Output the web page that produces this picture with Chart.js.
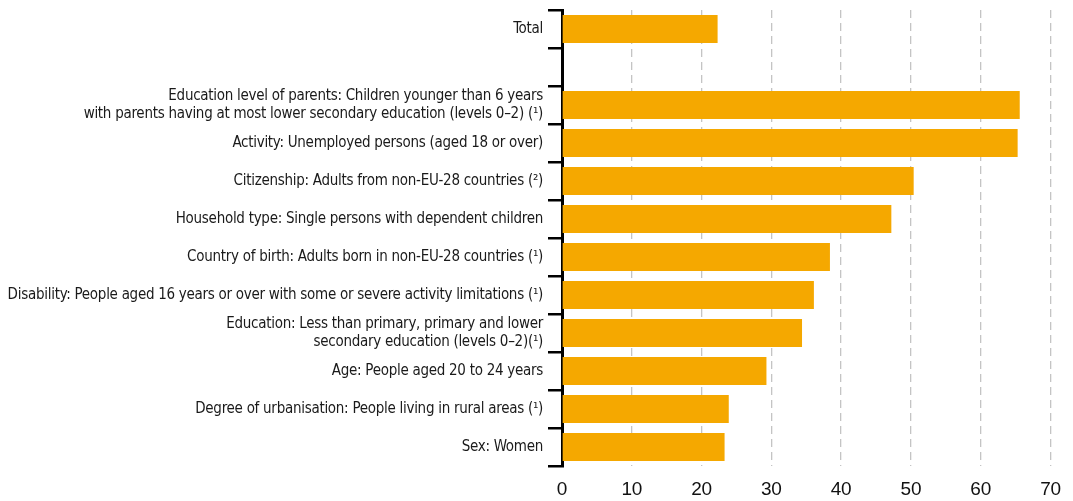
<!DOCTYPE html>
<html>
<head>
<meta charset="utf-8">
<script src="https://cdn.jsdelivr.net/npm/chart.js@4/dist/chart.umd.min.js"></script>
<style>
  html, body { margin: 0; padding: 0; background: #fff; }
  #wrap { width: 1073px; height: 501px; }
</style>
</head>
<body>
<div id="wrap"><canvas id="barChart"></canvas></div>
<script>
// categories (empty one keeps the gap under "Total")
const categories = [
  "Total",
  "",
  ["Education level of parents: Children younger than 6 years",
   "with parents having at most lower secondary education (levels 0\u20132) (\u00b9)"],
  "Activity: Unemployed persons (aged 18 or over)",
  "Citizenship: Adults from non-EU-28 countries (\u00b2)",
  "Household type: Single persons with dependent children",
  "Country of birth: Adults born in non-EU-28 countries (\u00b9)",
  "Disability: People aged 16 years or over with some or severe activity limitations (\u00b9)",
  ["Education: Less than primary, primary and lower",
   "secondary education (levels 0\u20132)(\u00b9)"],
  "Age: People aged 20 to 24 years",
  "Degree of urbanisation: People living in rural areas (\u00b9)",
  "Sex: Women"
];
const values = [22.3, null, 65.6, 65.3, 50.4, 47.2, 38.4, 36.1, 34.4, 29.3, 23.9, 23.3];
const xTicks = [0, 10, 20, 30, 40, 50, 60, 70];

const narrowFont = "'Liberation Sans Narrow', 'DejaVu Sans Condensed', 'Roboto Condensed', sans-serif";

// tighten the category labels a little (the original font is very condensed)
const tightLabels = {
  id: "tightLabels",
  beforeDraw(chart) {
    chart.ctx.letterSpacing = "-0.28px";
  },
  afterDraw(chart) {
    chart.ctx.letterSpacing = "0px";
  },
};

var ctx = document.getElementById("barChart").getContext("2d");
var barChart = new Chart(ctx, {
  type: "bar",
  data: {
    labels: categories,
    datasets: [
      {
        data: values,
        backgroundColor: "#f5a800",
        borderWidth: 0,
        barPercentage: 0.74,
        categoryPercentage: 1,
      },
    ],
  },
  options: {
    indexAxis: "y",
    responsive: true,
    maintainAspectRatio: false,
    animation: false,
    layout: { padding: { top: 10, right: 19, left: 0, bottom: 0 } },
    plugins: {
      legend: { display: false },
      tooltip: { enabled: false },
    },
    scales: {
      x: {
        min: 0,
        max: 70,
        afterBuildTicks: (scale) => {
          scale.ticks = xTicks.map((v) => ({ value: v }));
        },
        afterFit: (scale) => {
          scale.height = 35;
        },
        grid: {
          color: (c) => (c.tick && c.tick.value === 0 ? "rgba(0,0,0,0)" : "#c4c4c4"),
          lineWidth: 1.3,
          drawTicks: false,
        },
        border: { display: false, dash: [8, 5] },
        ticks: {
          color: "#111",
          padding: 12,
          font: { family: "'Liberation Sans', sans-serif", size: 19 },
        },
      },
      y: {
        afterFit: (scale) => {
          scale.width = 562;
          // labels sit inside their category band, no extra room needed
          scale.paddingTop = 0;
          scale.paddingBottom = 0;
        },
        border: { display: true, color: "#000", width: 3 },
        grid: {
          drawOnChartArea: false,
          drawTicks: true,
          tickLength: 14,
          color: "#000",
          lineWidth: 2.5,
          offset: true,
        },
        ticks: {
          autoSkip: false,
          color: "#1a1a1a",
          padding: 5,
          font: { family: narrowFont, size: 15, lineHeight: 1.2 },
        },
      },
    },
  },
  plugins: [tightLabels],
});
</script>
</body>
</html>
